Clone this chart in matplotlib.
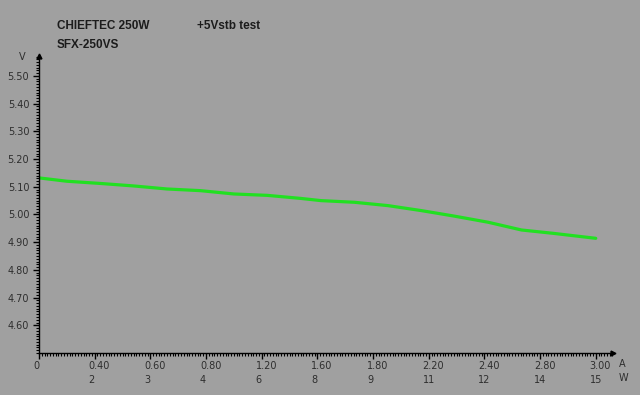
import matplotlib
matplotlib.use("Agg")
import matplotlib.pyplot as plt
from matplotlib.ticker import FixedLocator, MultipleLocator
from matplotlib.transforms import ScaledTranslation

# load current (A) vs +5Vstb voltage (V)
current = [0.00, 0.15, 0.33, 0.51, 0.69, 0.87, 1.05, 1.23, 1.41, 1.52,
           1.70, 1.88, 2.06, 2.23, 2.42, 2.60, 2.77, 3.00]
voltage = [5.132, 5.120, 5.112, 5.103, 5.092, 5.086, 5.074, 5.069, 5.058, 5.050,
           5.044, 5.032, 5.014, 4.995, 4.972, 4.944, 4.932, 4.914]

tick_pos = [0.0, 0.3, 0.6, 0.9, 1.2, 1.5, 1.8, 2.1, 2.4, 2.7, 3.0]
amp_labels = ["0", "0.40", "0.60", "0.80", "1.20", "1.60", "1.80", "2.20", "2.40", "2.80", "3.00"]
watt_labels = ["", "2", "3", "4", "6", "8", "9", "11", "12", "14", "15"]
volt_ticks = [4.60, 4.70, 4.80, 4.90, 5.00, 5.10, 5.20, 5.30, 5.40, 5.50]

bg = "#a0a0a0"
txt = "#1c1c1c"
tick_col = "#2e2e2e"

fig = plt.figure(figsize=(6.4, 3.95), dpi=100, facecolor=bg)
ax = fig.add_axes([39 / 640, 1 - 353 / 395, 574 / 640, 297 / 395], facecolor=bg)

ax.plot(current, voltage, color="#22e022", lw=2.3, solid_capstyle="round")

ax.set_xlim(0, 3.093)
ax.set_ylim(4.5, 5.572)

for s in ["top", "right"]:
    ax.spines[s].set_visible(False)
for s in ["left", "bottom"]:
    ax.spines[s].set_color("black")
    ax.spines[s].set_linewidth(1.0)

# arrow heads at the end of both axes
ax.plot(1, 0, ">", color="black", ms=3.5, transform=ax.transAxes, clip_on=False)
ax.plot(0, 1, "^", color="black", ms=3.5, transform=ax.transAxes, clip_on=False)

# x axis: amps and watts in two rows
ax.xaxis.set_major_locator(FixedLocator(tick_pos))
ax.xaxis.set_minor_locator(MultipleLocator(0.015))
ax.set_xticklabels([a + "\n" + w for a, w in zip(amp_labels, watt_labels)])
ax.tick_params(axis="x", which="major", direction="out", length=4, width=1,
               color="black", labelsize=7, labelcolor=tick_col, pad=2)
ax.tick_params(axis="x", which="minor", direction="out", length=2.2, width=0.8, color="black")
offset = ScaledTranslation(-6 / 100, 0, fig.dpi_scale_trans)
for lab in ax.get_xticklabels():
    lab.set_horizontalalignment("left")
    lab.set_linespacing(1.45)
    lab.set_transform(lab.get_transform() + offset)

# y axis
ax.yaxis.set_major_locator(FixedLocator(volt_ticks))
ax.yaxis.set_minor_locator(MultipleLocator(0.01))
ax.set_yticklabels(["%.2f" % v for v in volt_ticks])
ax.tick_params(axis="y", which="major", direction="out", length=4, width=1,
               color="black", labelsize=7, labelcolor=tick_col, pad=3)
ax.tick_params(axis="y", which="minor", direction="out", length=2.2, width=0.8, color="black")

# unit labels
ax.annotate("A\nW", xy=(1, 0), xycoords="axes fraction", xytext=(4.3, -4.3),
            textcoords="offset points", ha="left", va="top", fontsize=7,
            color=tick_col, linespacing=1.45)
fig.text(22 / 640, 1 - 57 / 395, "V", ha="center", va="center", fontsize=7, color=tick_col)

# header
hdr = dict(ha="left", va="center", fontsize=8.5, fontweight="bold", color=txt,
           family=["Liberation Sans", "DejaVu Sans"])
fig.text(57 / 640, 1 - 26 / 395, "CHIEFTEC 250W", **hdr)
fig.text(197 / 640, 1 - 26 / 395, "+5Vstb test", **hdr)
fig.text(57 / 640, 1 - 45 / 395, "SFX-250VS", **hdr)

fig.savefig("out.png", dpi=100, facecolor=bg)
